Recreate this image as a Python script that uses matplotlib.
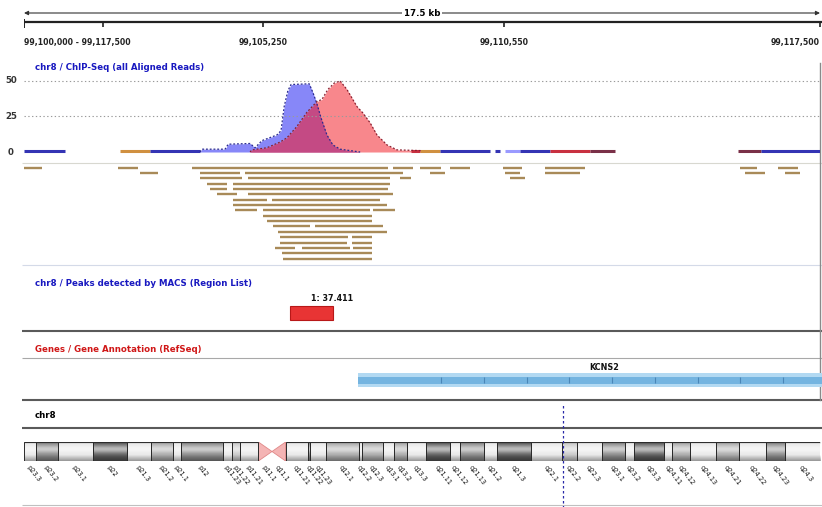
import numpy as np
import matplotlib
matplotlib.use("Agg")
import matplotlib.pyplot as plt
from matplotlib.patches import Rectangle, Polygon

W, H = 822, 507

# ------------------------------------------------------------------ data
chrom = "chr8"
view_start_mb = 99.10
view_len_kb = 17.5
ruler_span_label = "17.5 kb"
ruler_range_label = "99,100,000 - 99,117,500"
ruler_tick_kb = [1.74, 5.25, 10.55, 17.5]
ruler_tick_labels = ["", "99,105,250", "99,110,550", "99,117,500"]

cov_ticks = [0, 25, 50]

# coverage profiles (kb offset from view start, read depth)
fwd_kb = [3.87, 3.91, 4.42, 4.49, 4.97, 5.08, 5.23, 5.56, 5.65, 5.72, 5.80,
          5.87, 6.27, 6.35, 6.44, 6.53, 6.66, 6.79, 6.95, 7.17, 7.39]
fwd_val = [0, 2, 2, 5.5, 6, 3, 8, 12, 15, 32, 43,
           47.5, 48, 42, 34, 24, 12, 5, 2, 1, 0]
rev_kb = [4.97, 5.01, 5.34, 5.63, 5.78, 6.00, 6.22, 6.44, 6.55, 6.68, 6.82,
          6.95, 7.10, 7.32, 7.45, 7.61, 7.76, 7.98, 8.20, 8.71, 8.75]
rev_val = [0, 1.5, 3, 7, 10, 18, 28, 35.5, 37, 44, 48.5,
           50, 44, 32, 27.5, 20.5, 12, 5, 1.5, 1, 0]

# low-coverage stretches along the baseline
low_start = [0.00, 2.11, 2.77, 8.51, 8.71, 9.15, 10.35, 10.57, 10.90, 11.56, 12.44, 15.70, 16.20]
low_end = [0.90, 2.77, 3.87, 8.71, 9.15, 10.24, 10.46, 10.90, 11.56, 12.44, 12.99, 16.20, 17.50]
low_kind = ["f", "o", "f", "r", "o", "f", "f", "l", "f", "r", "d", "d", "f"]

# aligned reads: row, start kb, end kb
read_row = [0, 0, 0, 0, 0, 0, 0, 0, 0, 0,
            1, 1, 1, 1, 1, 1, 1, 1,
            2, 2, 2, 2,
            3, 3, 4, 4, 5, 5, 6, 6, 7, 8, 8, 8, 9, 10,
            11, 11, 12, 13, 13, 14, 14, 15, 15, 15, 16, 17]
read_start = [0.00, 2.07, 3.69, 8.11, 8.71, 9.37, 10.53, 11.45, 15.74, 16.58,
              2.55, 3.87, 4.86, 8.93, 10.57, 11.45, 15.85, 16.73,
              3.87, 4.92, 8.27, 10.68,
              4.02, 4.59, 4.09, 4.59, 4.24, 4.92, 4.59, 5.45, 4.59, 4.64, 5.25, 7.67, 5.25, 5.34,
              5.47, 6.40, 5.58, 5.63, 7.21, 5.63, 7.21, 5.52, 6.11, 7.23, 5.67, 5.69]
read_end = [0.40, 2.51, 8.00, 8.55, 9.17, 9.80, 10.95, 12.33, 16.11, 17.02,
            2.95, 4.75, 8.33, 9.26, 10.90, 12.22, 16.29, 17.06,
            4.79, 8.05, 8.51, 11.01,
            4.46, 8.05, 4.46, 8.00, 4.68, 8.11, 5.34, 7.83, 7.98, 5.12, 7.61, 8.16, 7.65, 7.65,
            6.29, 7.89, 7.98, 7.12, 7.65, 7.10, 7.65, 5.96, 7.17, 7.65, 7.65, 7.65]

peak_start_kb = 5.85
peak_end_kb = 6.79
peak_label = "1: 37.411"

gene_name = "KCNS2"
gene_start_kb = 7.34
gene_end_kb = 24.0

chrom_len_mb = 146.36
band_names = ["p23.3", "p23.2", "p23.1", "p22", "p21.3", "p21.2", "p21.1", "p12",
              "p11.23", "p11.22", "p11.21", "p11.1", "q11.1", "q11.21", "q11.22",
              "q11.23", "q12.1", "q12.2", "q12.3", "q13.1", "q13.2", "q13.3",
              "q21.11", "q21.12", "q21.13", "q21.2", "q21.3", "q22.1", "q22.2",
              "q22.3", "q23.1", "q23.2", "q23.3", "q24.11", "q24.12", "q24.13",
              "q24.21", "q24.22", "q24.23", "q24.3"]
band_start = [0.0, 2.2, 6.2, 12.7, 19.0, 23.3, 27.4, 28.8, 36.5, 38.3, 39.7, 43.1,
              45.6, 48.1, 52.2, 52.6, 55.5, 61.6, 62.2, 66.0, 68.0, 70.5, 73.9,
              78.3, 80.1, 84.6, 86.9, 93.3, 99.0, 101.6, 106.2, 110.5, 112.1,
              117.7, 119.2, 122.5, 127.3, 131.5, 136.4, 139.9]
band_end = band_start[1:] + [chrom_len_mb]
band_stain = ["gneg", "gpos75", "gneg", "gpos100", "gneg", "gpos50", "gneg", "gpos75",
              "gneg", "gpos25", "gneg", "acen", "acen", "gneg", "gpos75", "gneg",
              "gpos50", "gneg", "gpos50", "gneg", "gpos50", "gneg", "gpos100", "gneg",
              "gpos75", "gneg", "gpos100", "gneg", "gpos25", "gneg", "gpos75", "gneg",
              "gpos100", "gneg", "gpos50", "gneg", "gpos50", "gneg", "gpos75", "gneg"]

track_titles = ["chr8 / ChIP-Seq (all Aligned Reads)",
                "chr8 / Peaks detected by MACS (Region List)",
                "Genes / Gene Annotation (RefSeq)",
                "chr8"]

# ------------------------------------------------------------------ styling
plt.rcParams["font.family"] = ["DejaVu Sans"]
FS = 6.2
BLUE_T = "#1818c0"
RED_T = "#d01818"
low_colors = {"f": "#3434b4", "r": "#c83040", "o": "#d09040",
              "d": "#7a3048", "l": "#9a9aff"}
stain_colors = {"gneg": "#e6e6e6", "gpos25": "#c4c4c4", "gpos50": "#a4a4a4",
                "gpos75": "#828282", "gpos100": "#555555"}

fig = plt.figure(figsize=(W / 100, H / 100), dpi=100)
fig.patch.set_facecolor("white")


def px_axes(x0, y0, x1, y1):
    ax = fig.add_axes([x0 / W, 1 - y1 / H, (x1 - x0) / W, (y1 - y0) / H])
    ax.set_axis_off()
    ax.patch.set_visible(False)
    return ax


X0, X1 = 24, 820
kb_per_px = view_len_kb / (X1 - X0)

# ---- frame (separators, titles)
axf = px_axes(0, 0, W, H)
axf.set_xlim(0, W)
axf.set_ylim(H, 0)
for y, c, lw in [(163, "#d8d8d0", 0.8), (265, "#d4dae8", 0.8), (331, "#5a5a5a", 1.5),
                 (358, "#a8a8a8", 0.8), (400, "#5a5a5a", 1.5), (428, "#5a5a5a", 1.5),
                 (505, "#c0c0c0", 0.8)]:
    axf.plot([22, W], [y, y], color=c, lw=lw, solid_capstyle="butt")
axf.plot([820, 820], [63, 400], color="#8a8a8a", lw=1.0)
axf.text(35, 67, track_titles[0], color=BLUE_T, fontsize=FS, fontweight="bold", va="center")
axf.text(35, 283, track_titles[1], color=BLUE_T, fontsize=FS, fontweight="bold", va="center")
axf.text(35, 349, track_titles[2], color=RED_T, fontsize=FS, fontweight="bold", va="center")
axf.text(35, 416, track_titles[3], color="black", fontsize=FS, fontweight="bold", va="center")

# ---- ruler
axr = px_axes(X0, 0, W, 50)
axr.set_xlim(0, (W - X0) * kb_per_px)
axr.set_ylim(50, 0)
axr.annotate("", xy=(0, 13), xytext=(view_len_kb, 13),
             arrowprops=dict(arrowstyle="<|-|>", color="#333333", lw=0.8,
                             mutation_scale=6, shrinkA=0, shrinkB=0))
axr.text(view_len_kb / 2, 13, ruler_span_label, ha="center", va="center",
         fontsize=FS, fontweight="bold",
         bbox=dict(facecolor="white", edgecolor="none", pad=1))
axr.plot([0, (W - X0) * kb_per_px], [22, 22], color="#222222", lw=1.6)
axr.vlines([0], 19, 28, color="#222222", lw=1.4)
axr.vlines(ruler_tick_kb, 22, 27, color="#222222", lw=1.2)
axr.text(0, 42, ruler_range_label, ha="left", va="center", fontsize=FS - 0.6,
         fontweight="bold", color="#222222")
last = len(ruler_tick_kb) - 1
for i, (t, lab) in enumerate(zip(ruler_tick_kb, ruler_tick_labels)):
    if lab:
        axr.text(t, 42, lab, ha="right" if i == last else "center", va="center",
                 fontsize=FS - 0.6, fontweight="bold", color="#222222", clip_on=False)

# ---- coverage
axc = px_axes(X0, 75, X1, 155)
axc.set_xlim(0, view_len_kb)
axc.set_ylim(-2.1, 54.2)
for v in cov_ticks[1:]:
    axc.axhline(v, color="#9a9a9a", lw=0.8, ls=(0, (1.2, 2.2)))
for v in cov_ticks:
    axc.text(-13 / (X1 - X0), v, str(v), transform=axc.get_yaxis_transform(),
             ha="center", va="center", fontsize=FS, fontweight="bold", color="#333333")
axc.hlines([0.7] * len(low_start), low_start, low_end,
           colors=[low_colors[k] for k in low_kind], lw=2.2)
axc.fill_between(fwd_kb, fwd_val, color="#8787f8", lw=0)
axc.fill_between(rev_kb, rev_val, color="#f8878c", lw=0)
grid = np.linspace(0, view_len_kb, 4000)
ov = np.minimum(np.interp(grid, fwd_kb, fwd_val, left=0, right=0),
                np.interp(grid, rev_kb, rev_val, left=0, right=0))
axc.fill_between(grid, ov, color="#c44a84", lw=0)
axc.plot(fwd_kb, fwd_val, color="#2a2a90", lw=0.9, ls=(0, (1.5, 1.5)))
axc.plot(rev_kb, rev_val, color="#8a2030", lw=0.9, ls=(0, (1.5, 1.5)))

# ---- reads
axd = px_axes(X0, 160, X1, 265)
axd.set_xlim(0, view_len_kb)
axd.set_ylim(18.2, -1.4)
axd.hlines(read_row, read_start, read_end, color="#a88a58", lw=1.7)

# ---- peaks
axp = px_axes(X0, 295, X1, 325)
axp.set_xlim(0, view_len_kb)
axp.set_ylim(30, 0)
axp.add_patch(Rectangle((peak_start_kb, 11), peak_end_kb - peak_start_kb, 14,
                        facecolor="#e83434", edgecolor="#b81818", lw=0.8))
axp.text((peak_start_kb + peak_end_kb) / 2, 8, peak_label, ha="left", va="bottom",
         fontsize=FS - 0.4, fontweight="bold", color="#111111", clip_on=False)

# ---- gene
axg = px_axes(X0, 360, W, 392)
axg.set_xlim(0, (W - X0) * kb_per_px)
axg.set_ylim(32, 0)
axg.add_patch(Rectangle((gene_start_kb, 13), gene_end_kb - gene_start_kb, 14,
                        facecolor="#b2d9f2", edgecolor="none"))
axg.add_patch(Rectangle((gene_start_kb, 16.5), gene_end_kb - gene_start_kb, 7,
                        facecolor="#74b4e0", edgecolor="none"))
marks = np.arange(gene_start_kb + 1.83, (W - X0) * kb_per_px, 0.94)
axg.vlines(marks, 17, 23, color="#4a86b8", lw=0.8)
axg.text((gene_start_kb + view_len_kb) / 2, 12, gene_name, ha="left", va="bottom",
         fontsize=FS - 0.4, fontweight="bold", color="#111111")

# ---- ideogram
axi = px_axes(X0, 442, X1, 461)
axi.set_xlim(0, chrom_len_mb)
axi.set_ylim(0, 1)
for s, e, st in zip(band_start, band_end, band_stain):
    if st != "acen":
        axi.add_patch(Rectangle((s, 0), e - s, 1, facecolor=stain_colors[st],
                                edgecolor="none", zorder=1))
t = np.linspace(0, 1, 80)[:, None]
hl = 0.6 * np.exp(-((t - 0.6) / 0.22) ** 2)
sh = 0.35 * np.clip((0.3 - t) / 0.3, 0, 1) + 0.35 * np.clip((t - 0.85) / 0.15, 0, 1)
img_w = np.dstack([np.ones_like(t), np.ones_like(t), np.ones_like(t), hl])
img_k = np.dstack([np.zeros_like(t), np.zeros_like(t), np.zeros_like(t), sh])
axi.imshow(img_w, extent=[0, chrom_len_mb, 0, 1], aspect="auto", origin="lower", zorder=2)
axi.imshow(img_k, extent=[0, chrom_len_mb, 0, 1], aspect="auto", origin="lower", zorder=2)
for s, e, st in zip(band_start, band_end, band_stain):
    if st == "acen":
        axi.add_patch(Rectangle((s, 0), e - s, 1, facecolor="white", edgecolor="none", zorder=3))
for i, (s, e, st) in enumerate(zip(band_start, band_end, band_stain)):
    if st == "acen":
        if band_names[i].startswith("p"):
            pts = [(s, 1), (s, 0), (e, 0.5)]
        else:
            pts = [(e, 1), (e, 0), (s, 0.5)]
        axi.add_patch(Polygon(pts, closed=True, facecolor="#f4b4b4",
                              edgecolor="#e08888", lw=0.6, zorder=4))
    else:
        axi.add_patch(Rectangle((s, 0), e - s, 1, facecolor="none",
                                edgecolor="#2a2a2a", lw=0.7, zorder=5))
for name, s, e in zip(band_names, band_start, band_end):
    axi.text((s + e) / 2, -0.2, name, rotation=-52, rotation_mode="anchor",
             ha="left", va="top", fontsize=4.8, color="#111111", clip_on=False)
axi.axvline(view_start_mb, ymin=-2.45, ymax=3.0, color="#2828a8", lw=0.9,
            ls=(0, (2, 2)), clip_on=False, zorder=6)

fig.savefig("out.png", dpi=100, facecolor="white")
